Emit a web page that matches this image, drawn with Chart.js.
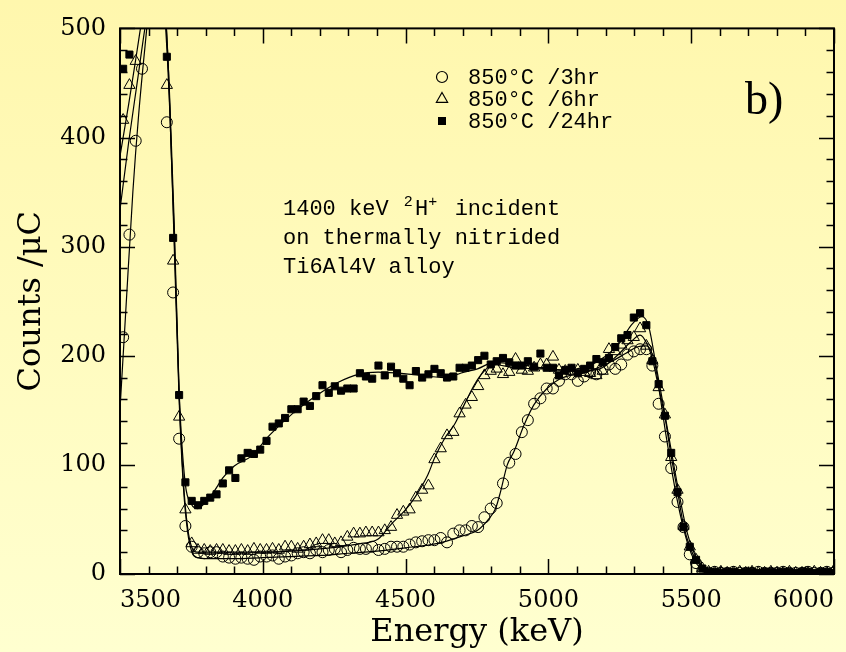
<!DOCTYPE html>
<html lang="en">
<head>
<meta charset="UTF-8">
<title>RBS spectra - thermally nitrided Ti6Al4V</title>
<script src="https://cdn.jsdelivr.net/npm/chart.js@4"></script>
<style>
  html, body { margin: 0; padding: 0; background: #fffbc0; }
  #wrap { width: 846px; height: 652px; }
</style>
</head>
<body>
<div id="wrap"><canvas id="chart" width="846" height="652"></canvas></div>
<script>
// detector channels (keV), shared by the three spectra
const energy = [
  3511, 3533, 3555, 3577, 3598, 3620, 3642, 3664, 3686, 3707,
  3729, 3751, 3773, 3795, 3816, 3838, 3860, 3882, 3904, 3925,
  3947, 3969, 3991, 4013, 4034, 4056, 4078, 4100, 4122, 4143,
  4165, 4187, 4209, 4231, 4252, 4274, 4296, 4318, 4340, 4361,
  4383, 4405, 4427, 4449, 4470, 4492, 4514, 4536, 4558, 4580,
  4601, 4623, 4645, 4667, 4689, 4710, 4732, 4754, 4776, 4798,
  4819, 4841, 4863, 4885, 4907, 4928, 4950, 4972, 4994, 5016,
  5037, 5059, 5081, 5103, 5125, 5146, 5168, 5190, 5212, 5234,
  5255, 5277, 5299, 5321, 5343, 5364, 5386, 5408, 5430, 5452,
  5473, 5495, 5517, 5539, 5561, 5582, 5604, 5626, 5648, 5670,
  5691, 5713, 5735, 5757, 5779, 5800, 5822, 5844, 5866, 5888,
  5909, 5931, 5953, 5975, 5997
];

const counts3hr = [
  217, 311, 397, 463, 520, 545, 505, 414, 258, 124,
  44, 25, 20, 19, 20, 20, 16, 15, 14, 15,
  14, 13, 16, 16, 17, 14, 16, 17, 19, 20,
  19, 22, 20, 22, 23, 20, 22, 24, 23, 23,
  25, 22, 23, 25, 25, 25, 27, 29, 30, 31,
  31, 33, 29, 37, 40, 40, 44, 43, 52, 60,
  65, 83, 102, 110, 130, 141, 156, 161, 170, 170,
  177, 183, 183, 177, 181, 185, 183, 188, 192, 188,
  192, 201, 204, 206, 206, 191, 156, 126, 97, 66,
  43, 18, 10, 3, 1, 2, 1, 1, 2, 1,
  1, 1, 2, 1, 1, 1, 2, 1, 1, 1,
  2, 1, 1, 2, 1
];

const counts6hr = [
  416, 448, 470, 505, 540, 560, 530, 448, 287, 144,
  59, 28, 22, 22, 21, 22, 22, 21, 21, 22,
  21, 23, 22, 22, 23, 22, 25, 25, 23, 25,
  27, 28, 31, 31, 28, 29, 34, 37, 37, 38,
  38, 38, 40, 43, 54, 57, 59, 70, 77, 81,
  105, 115, 127, 130, 147, 155, 162, 172, 182, 186,
  188, 183, 185, 197, 187, 186, 189, 192, 192, 199,
  187, 186, 186, 187, 185, 184, 182, 186, 206, 204,
  210, 214, 217, 225, 209, 196, 171, 146, 107, 77,
  44, 25, 13, 5, 2, 1, 2, 1, 1, 2,
  1, 2, 1, 1, 2, 1, 1, 2, 1, 1,
  1, 2, 1, 1, 2
];

const counts24hr = [
  463, 476, 520, 560, 590, 570, 530, 474, 308, 164,
  84, 67, 63, 67, 70, 73, 83, 95, 88, 106,
  111, 110, 114, 122, 135, 138, 143, 151, 151, 158,
  154, 163, 173, 166, 172, 168, 170, 170, 184, 181,
  179, 191, 182, 190, 184, 179, 173, 186, 180, 183,
  188, 184, 180, 181, 189, 189, 191, 196, 200, 192,
  195, 198, 194, 191, 191, 195, 190, 202, 189, 189,
  182, 187, 189, 184, 188, 191, 197, 194, 198, 208,
  216, 219, 235, 239, 228, 195, 174, 145, 111, 75,
  43, 25, 13, 5, 2, 2, 1, 2, 2, 1,
  2, 2, 1, 2, 2, 1, 2, 2, 1, 2,
  2, 1, 2, 2, 1
];

// simulated spectra (solid lines)
const fit3E = [3500, 3520, 3545, 3565, 3590, 3610, 3635, 3655, 3670, 3690, 3707, 3722, 3737, 3752, 3770, 3800, 3900, 4000, 4100, 4200, 4300, 4400, 4500, 4613, 4700, 4752, 4790, 4815, 4833, 4856, 4879, 4914, 4949, 4995, 5041, 5134, 5215, 5270, 5310, 5343, 5360, 5375, 5390, 5410, 5430, 5450, 5470, 5490, 5510, 5530, 5555, 5590, 5650, 6000];
const fit3C = [151, 240, 350, 420, 490, 540, 560, 530, 460, 300, 160, 80, 38, 20, 15, 14, 14, 15, 16, 17, 19, 21, 24, 28, 35, 40, 50, 60, 76, 100, 112, 136, 155, 170, 179, 185, 194, 202, 208, 209, 204, 190, 165, 130, 98, 69, 45, 26, 13, 6, 3, 2, 1, 1];

const fit6E = [3500, 3530, 3560, 3590, 3620, 3645, 3660, 3675, 3690, 3707, 3722, 3737, 3752, 3770, 3800, 3900, 4000, 4100, 4200, 4300, 4346, 4404, 4451, 4497, 4532, 4578, 4601, 4636, 4671, 4705, 4740, 4775, 4810, 4879, 4983, 5099, 5180, 5240, 5290, 5321, 5345, 5365, 5385, 5408, 5430, 5452, 5473, 5495, 5517, 5540, 5565, 5600, 5650, 6000];
const fit6C = [334, 395, 450, 505, 550, 545, 500, 420, 310, 165, 85, 42, 24, 20, 20, 20, 20, 21, 23, 26, 28, 32, 46, 58, 70, 91, 106, 124, 137, 155, 173, 186, 192, 189, 188, 186, 188, 200, 213, 219, 211, 196, 172, 144, 108, 76, 45, 25, 13, 6, 3, 2, 1, 1];

const fit24E = [3500, 3530, 3560, 3590, 3620, 3645, 3660, 3675, 3690, 3707, 3728, 3750, 3773, 3800, 3830, 3860, 3900, 3960, 4023, 4104, 4196, 4266, 4335, 4404, 4520, 4636, 4705, 4752, 4810, 4900, 5040, 5100, 5180, 5250, 5290, 5328, 5352, 5377, 5400, 5429, 5458, 5487, 5516, 5550, 5575, 5620, 6000];
const fit24C = [383, 430, 480, 530, 565, 555, 510, 430, 320, 168, 84, 64, 60, 66, 76, 88, 99, 108, 127, 147, 165, 176, 183, 185, 183, 180, 185, 188, 194, 192, 187, 188, 196, 212, 228, 236, 226, 191, 158, 115, 73, 37, 16, 5, 3, 2, 2];

const seriesLabels = ['850°C /3hr', '850°C /6hr', '850°C /24hr'];
const noteLines = ['1400 keV ', 'on thermally nitrided', 'Ti6Al4V alloy'];

function pts(xs, ys) {
    return xs.map((x, i) => ({ x: x, y: ys[i] }));
}

function markerSet(label, ys, style, radius, fill) {
    return {
        label: label,
        data: pts(energy, ys),
        showLine: false,
        pointStyle: style,
        pointRadius: radius,
        pointBorderWidth: 1,
        borderColor: '#000',
        backgroundColor: fill,
        pointBackgroundColor: fill
    };
}

function fitSet(xs, ys) {
    return {
        data: pts(xs, ys),
        showLine: true,
        pointRadius: 0,
        borderWidth: 1.2,
        borderColor: '#000',
        cubicInterpolationMode: 'monotone'
    };
}

const bgPlugin = {
    id: 'bg',
    beforeDraw(chart) {
        const { ctx, width, height } = chart;
        const g = ctx.createLinearGradient(0, 0, 0, height);
        g.addColorStop(0, '#fff7ad');
        g.addColorStop(1, '#ffffd0');
        ctx.save();
        ctx.fillStyle = g;
        ctx.fillRect(0, 0, width, height);
        ctx.restore();
    }
};

// frame with inward ticks on all four sides
const framePlugin = {
    id: 'frame',
    afterDatasetsDraw(chart) {
        const { ctx, chartArea: a, scales } = chart;
        ctx.save();
        ctx.strokeStyle = '#000';
        ctx.lineWidth = 1.5;
        ctx.beginPath();
        scales.x.ticks.forEach(t => {
            const px = Math.round(scales.x.getPixelForValue(t.value)) + 0.5;
            const len = t.value % 500 === 0 ? 15 : 7.5;
            ctx.moveTo(px, a.bottom); ctx.lineTo(px, a.bottom - len);
            ctx.moveTo(px, a.top); ctx.lineTo(px, a.top + len);
        });
        scales.y.ticks.forEach(t => {
            const py = Math.round(scales.y.getPixelForValue(t.value)) + 0.5;
            const len = t.value % 100 === 0 ? 15 : 7.5;
            ctx.moveTo(a.left, py); ctx.lineTo(a.left + len, py);
            ctx.moveTo(a.right, py); ctx.lineTo(a.right - len, py);
        });
        ctx.stroke();
        ctx.lineWidth = 2;
        ctx.strokeRect(a.left, a.top, a.right - a.left, a.bottom - a.top);
        ctx.restore();
    }
};

const notePlugin = {
    id: 'notes',
    afterDraw(chart) {
        const ctx = chart.ctx;
        ctx.save();
        ctx.fillStyle = '#000';
        ctx.strokeStyle = '#000';
        ctx.lineWidth = 1.2;
        ctx.textBaseline = 'alphabetic';
        ctx.textAlign = 'left';
        const mono = '22px "Liberation Mono", "DejaVu Sans Mono", monospace';

        // legend
        const mx = 442;
        const rows = [77, 99, 121];
        ctx.beginPath();
        ctx.arc(mx, rows[0], 5.5, 0, Math.PI * 2);
        ctx.stroke();
        ctx.beginPath();
        ctx.moveTo(mx, rows[1] - 6.5);
        ctx.lineTo(mx + 5.6, rows[1] + 3.3);
        ctx.lineTo(mx - 5.6, rows[1] + 3.3);
        ctx.closePath();
        ctx.stroke();
        ctx.fillRect(mx - 4, rows[2] - 4, 8, 8);
        ctx.font = mono;
        seriesLabels.forEach((s, i) => ctx.fillText(s, 468, rows[i] + 7));

        // experiment note
        const cw = ctx.measureText('0').width;
        let x = 283;
        ctx.fillText(noteLines[0], x, 215);
        x += ctx.measureText(noteLines[0]).width;
        ctx.font = '15px "Liberation Mono", "DejaVu Sans Mono", monospace';
        ctx.fillText('2', x + 2, 206);
        x += cw;
        ctx.font = mono;
        ctx.fillText('H', x, 215);
        x += cw;
        ctx.font = '15px "Liberation Mono", "DejaVu Sans Mono", monospace';
        ctx.fillText('+', x, 206);
        x += cw;
        ctx.font = mono;
        ctx.fillText(' incident', x, 215);
        ctx.fillText(noteLines[1], 283, 244);
        ctx.fillText(noteLines[2], 283, 273);

        // panel label
        ctx.font = '46px "Liberation Serif", "Times New Roman", serif';
        ctx.fillText('b)', 745, 114);
        ctx.restore();
    }
};

const serif = 'DejaVu Serif';

new Chart(document.getElementById('chart').getContext('2d'), {
    type: 'scatter',
    data: {
        datasets: [
            markerSet(seriesLabels[0], counts3hr, 'circle', 5.5, 'rgba(0,0,0,0)'),
            markerSet(seriesLabels[1], counts6hr, 'triangle', 6.5, 'rgba(0,0,0,0)'),
            markerSet(seriesLabels[2], counts24hr, 'rect', 5, '#000'),
            fitSet(fit3E, fit3C),
            fitSet(fit6E, fit6C),
            fitSet(fit24E, fit24C)
        ]
    },
    options: {
        responsive: false,
        animation: false,
        layout: { padding: { left: 0, right: 8, top: 22, bottom: 0 } },
        plugins: {
            legend: { display: false },
            tooltip: { enabled: false }
        },
        scales: {
            x: {
                type: 'linear',
                min: 3500,
                max: 6000,
                grid: { display: false, drawTicks: false },
                border: { display: false },
                ticks: {
                    stepSize: 100,
                    autoSkip: false,
                    maxRotation: 0,
                    align: 'inner',
                    padding: 12,
                    color: '#000',
                    font: { family: serif, size: 24 },
                    callback: v => (v % 500 === 0 ? String(v) : '')
                },
                title: {
                    display: true,
                    text: 'Energy (keV)',
                    color: '#000',
                    font: { family: serif, size: 32 },
                    padding: { top: 0, bottom: 0 }
                },
                afterFit: s => { s.height = 78; }
            },
            y: {
                type: 'linear',
                min: 0,
                max: 500,
                grid: { display: false, drawTicks: false },
                border: { display: false },
                ticks: {
                    stepSize: 20,
                    autoSkip: false,
                    padding: 14,
                    color: '#000',
                    font: { family: serif, size: 24 },
                    callback: v => (v % 100 === 0 ? String(v) : '')
                },
                title: {
                    display: true,
                    text: 'Counts /μC',
                    color: '#000',
                    font: { family: serif, size: 32 },
                    padding: { top: 12, bottom: 0 }
                },
                afterFit: s => { s.width = 120; }
            }
        }
    },
    plugins: [bgPlugin, framePlugin, notePlugin]
});
</script>
</body>
</html>
